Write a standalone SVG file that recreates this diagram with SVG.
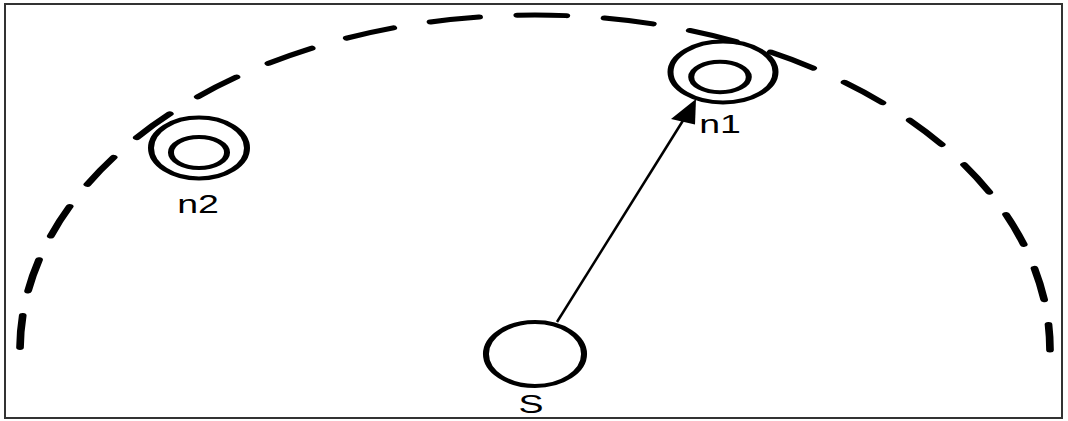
<svg xmlns="http://www.w3.org/2000/svg" width="1068" height="421" viewBox="0 0 1068 421">
  <style>
    .ring { fill: none; stroke: #000; stroke-width: 4; }
    .lbl { font-family: "Liberation Sans", Arial, sans-serif; font-size: 25px; fill: #000; text-anchor: middle; }
    .range { fill: none; stroke: #000; stroke-width: 5; stroke-linecap: round; stroke-dasharray: 32 24.9; stroke-dashoffset: -2.5; }
  </style>
  <rect x="5" y="4" width="1057" height="414" fill="#fff" stroke="#333" stroke-width="2"/>
  <g id="range">
    <path class="range" transform="translate(535,350) scale(1.5373,1)" d="M -335 0 A 335 335 0 0 1 335 0"/>
  </g>
  <g id="connectors">
    <line x1="557" y1="322" x2="684" y2="119" stroke="#000" stroke-width="2.5"/>
    <polygon points="696,99 671,119 695,124.5" fill="#000"/>
  </g>
  <g id="n1">
    <g transform="translate(723,72) scale(1.5,1)">
      <ellipse class="ring" cx="0" cy="0" rx="35" ry="30.5"/>
      <ellipse class="ring" cx="-2" cy="5" rx="19.2" ry="15.2"/>
    </g>
    <text class="lbl" transform="translate(720,133) scale(1.5,1)">n1</text>
  </g>
  <g id="n2">
    <g transform="translate(199,148) scale(1.5,1)">
      <ellipse class="ring" cx="0" cy="0" rx="32" ry="30.5"/>
      <ellipse class="ring" cx="0" cy="4.5" rx="18.7" ry="15.5"/>
    </g>
    <text class="lbl" transform="translate(198,213) scale(1.5,1)">n2</text>
  </g>
  <g id="S">
    <g transform="translate(535,354) scale(1.5,1)">
      <ellipse class="ring" cx="0" cy="0" rx="32.7" ry="32"/>
    </g>
    <text class="lbl" transform="translate(531,412.5) scale(1.5,1)">S</text>
  </g>
</svg>
